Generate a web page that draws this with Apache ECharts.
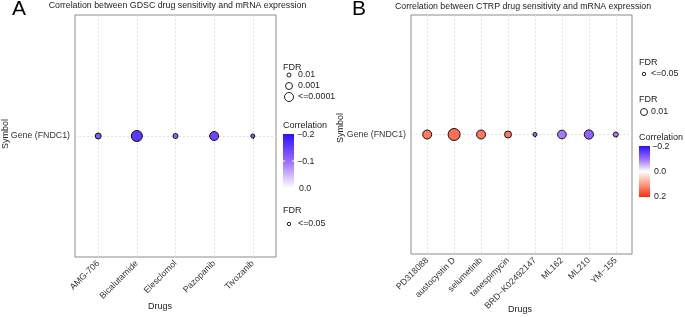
<!DOCTYPE html>
<html>
<head>
<meta charset="utf-8">
<script src="https://cdn.jsdelivr.net/npm/echarts@6/dist/echarts.min.js"></script>
<style>html,body{margin:0;padding:0;background:#fff}#c{width:685px;height:317px}</style>
</head>
<body>
<div id="c"></div>
<script>
// ---- Data ----
const drugsA = ['AMG-706', 'Bicalutamide', 'Elesclomol', 'Pazopanib', 'Tivozanib'];
const corrA = [-0.12, -0.155, -0.11, -0.14, -0.12];
const fdrA = [0.0054, 0.00006, 0.013, 0.00037, 0.032];

const drugsB = ['PD318088', 'austocystin D', 'selumetinib', 'tanespimycin', 'BRD\u2212K02492147', 'ML162', 'ML210', 'YM\u2212155'];
const corrB = [0.13, 0.14, 0.13, 0.13, -0.1, -0.09, -0.11, -0.09];
const fdrB = [0.00037, 0.000025, 0.00037, 0.0022, 0.032, 0.0005, 0.0003, 0.013];

const geneLabel = 'Gene (FNDC1)';
const titleA = 'Correlation between GDSC drug sensitivity and mRNA expression';
const titleB = 'Correlation between CTRP drug sensitivity and mRNA expression';
const legendTicksA = ['\u22120.2', '\u22120.1', '0.0'];
const legendTicksB = ['\u22120.2', '0.0', '0.2'];

// ---- Build ----
const F = 'Liberation Sans, Arial, sans-serif';
function rows(corr, fdr) {
  return corr.map((c, i) => [i, 0, c, -Math.log10(fdr[i])]);
}
const idx = n => Array.from({length: n}, (_, i) => i);

function xAxis(gi, names) {
  const n = names.length;
  const ticks = idx(n);
  return {
    type: 'value', gridIndex: gi, min: -0.6, max: n - 1 + 0.6,
    axisLine: {show: false},
    axisTick: {show: true, length: 3, customValues: ticks, lineStyle: {color: '#333'}},
    axisLabel: {customValues: ticks, rotate: 45, margin: 5, fontSize: 8.8, fontFamily: F, color: '#333',
      formatter: v => names[Math.round(v)]},
    splitLine: {show: true, lineStyle: {color: '#dcdcdc', type: [2, 2], width: 0.8}}
  };
}
function yAxis(gi) {
  return {
    type: 'value', gridIndex: gi, min: -1, max: 1,
    axisLine: {show: false},
    axisTick: {show: true, length: 3, customValues: [0], lineStyle: {color: '#333'}},
    axisLabel: {customValues: [0], margin: 5, fontSize: 8.8, fontFamily: F, color: '#333', formatter: () => geneLabel},
    splitLine: {show: true, lineStyle: {color: '#dcdcdc', type: [2, 2], width: 0.8}}
  };
}

const blueEnd = '#2a10ff', blueMid = '#9a6cff', redMid = '#ff9a80', redEnd = '#ff2a10';

const txt = (x, y, s, o) => Object.assign({type: 'text', x, y, style: Object.assign({text: s, fontFamily: F, fontSize: 8.8, fill: '#222', textVerticalAlign: 'middle'}, o || {})});
const circ = (cx, cy, r) => ({type: 'circle', shape: {cx, cy, r}, style: {fill: 'none', stroke: '#222', lineWidth: 1}});

const graphics = [
  txt(12, 9, 'A', {fontSize: 21, fill: '#000'}),
  txt(352, 9, 'B', {fontSize: 21, fill: '#000'}),
  txt(177.5, 6, titleA, {textAlign: 'center'}),
  txt(523, 7, titleB, {textAlign: 'center'}),
  txt(160, 307, 'Drugs', {textAlign: 'center', fontSize: 9}),
  txt(520, 310, 'Drugs', {textAlign: 'center', fontSize: 9}),
  {type: 'text', x: 6, y: 134, rotation: Math.PI / 2, style: {text: 'Symbol', fontFamily: F, fontSize: 9, fill: '#222', textAlign: 'center', textVerticalAlign: 'middle'}},
  {type: 'text', x: 341, y: 128, rotation: Math.PI / 2, style: {text: 'Symbol', fontFamily: F, fontSize: 9, fill: '#222', textAlign: 'center', textVerticalAlign: 'middle'}},
  // Legend A
  txt(283, 68, 'FDR', {fontSize: 9}),
  circ(289, 75, 2), txt(298, 75, '0.01'),
  circ(289, 86, 3.5), txt(298, 86, '0.001'),
  circ(289, 97, 4.5), txt(298, 97, '<=0.0001'),
  txt(283, 126, 'Correlation', {fontSize: 9}),
  {type: 'rect', shape: {x: 283, y: 134, width: 11, height: 54},
    style: {fill: new echarts.graphic.LinearGradient(0, 0, 0, 1, [
      {offset: 0, color: blueEnd}, {offset: 0.5, color: blueMid}, {offset: 1, color: '#ffffff'}])}},
  {type: 'line', shape: {x1: 283, y1: 161, x2: 285, y2: 161}, style: {stroke: '#fff', lineWidth: 1}},
  {type: 'line', shape: {x1: 292, y1: 161, x2: 294, y2: 161}, style: {stroke: '#fff', lineWidth: 1}},
  txt(297, 135, legendTicksA[0]), txt(297, 162, legendTicksA[1]), txt(299, 189, legendTicksA[2]),
  txt(283, 211, 'FDR', {fontSize: 9}),
  circ(289, 224, 1.7), txt(298, 224, '<=0.05'),
  // Legend B
  txt(639, 63, 'FDR', {fontSize: 9}),
  circ(644, 74, 1.7), txt(651, 74, '<=0.05'),
  txt(639, 100, 'FDR', {fontSize: 9}),
  circ(644, 112, 3.5), txt(651, 112, '0.01'),
  txt(639, 138, 'Correlation', {fontSize: 9}),
  {type: 'rect', shape: {x: 639, y: 146, width: 11, height: 51},
    style: {fill: new echarts.graphic.LinearGradient(0, 0, 0, 1, [
      {offset: 0, color: blueEnd}, {offset: 0.25, color: blueMid}, {offset: 0.5, color: '#ffffff'},
      {offset: 0.75, color: redMid}, {offset: 1, color: redEnd}])}},
  txt(652, 147, legendTicksB[0]), txt(654, 172, legendTicksB[1]), txt(654, 197, legendTicksB[2])
];

const chart = echarts.init(document.getElementById('c'), null, {renderer: 'canvas'});
chart.setOption({
  animation: false,
  backgroundColor: '#fff',
  grid: [
    {left: 75, top: 15, width: 201, height: 242, show: true, borderColor: '#8c8c8c', borderWidth: 1, backgroundColor: 'transparent'},
    {left: 411, top: 15, width: 221, height: 239, show: true, borderColor: '#8c8c8c', borderWidth: 1, backgroundColor: 'transparent'}
  ],
  xAxis: [xAxis(0, drugsA), xAxis(1, drugsB)],
  yAxis: [yAxis(0), yAxis(1)],
  visualMap: [
    {type: 'continuous', show: false, seriesIndex: 0, dimension: 2, min: -0.2, max: 0,
      inRange: {color: [blueEnd, blueMid, '#ffffff']}},
    {type: 'continuous', show: false, seriesIndex: 1, dimension: 2, min: -0.2, max: 0.2,
      inRange: {color: [blueEnd, blueMid, '#ffffff', redMid, redEnd]}},
    {type: 'continuous', show: false, seriesIndex: [0, 1], dimension: 3, min: 1.3, max: 4.6,
      inRange: {symbolSize: [3.5, 12]}}
  ],
  series: [
    {type: 'scatter', xAxisIndex: 0, yAxisIndex: 0, data: rows(corrA, fdrA),
      itemStyle: {borderColor: '#111', borderWidth: 1, opacity: 1}},
    {type: 'scatter', xAxisIndex: 1, yAxisIndex: 1, data: rows(corrB, fdrB),
      itemStyle: {borderColor: '#111', borderWidth: 1, opacity: 1}}
  ],
  graphic: graphics
});
</script>
</body>
</html>
